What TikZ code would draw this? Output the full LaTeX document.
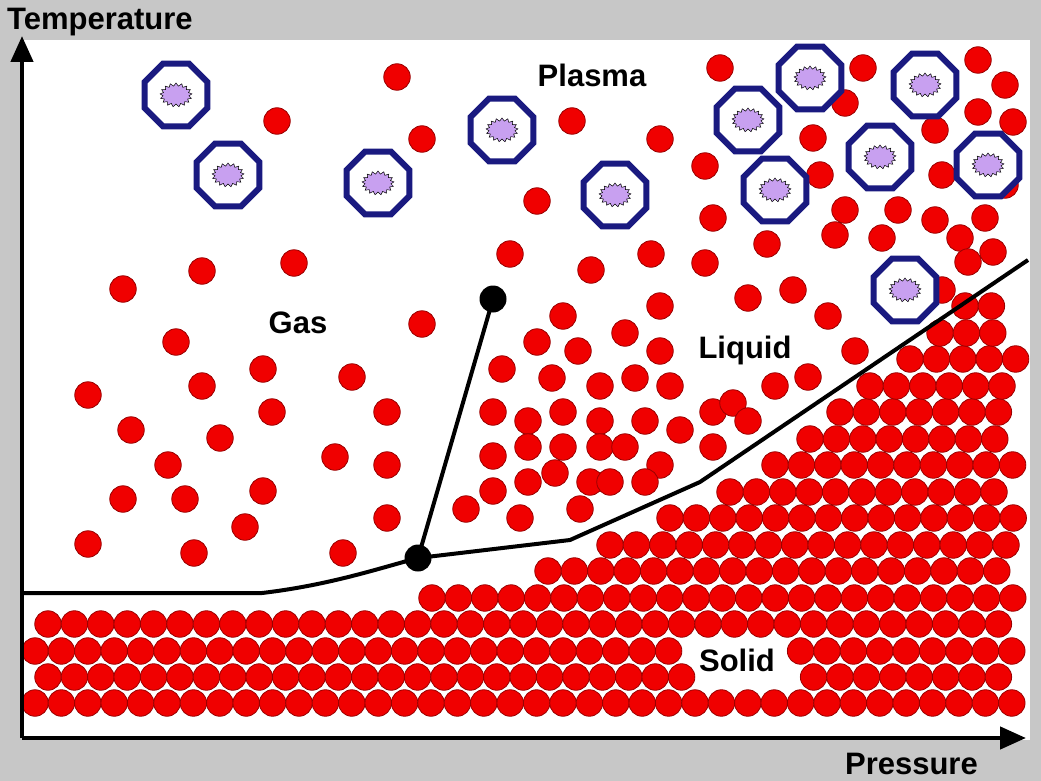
\documentclass[tikz,border=0pt]{standalone}
\usepackage{fontspec}
\setmainfont{Liberation Sans}
\usetikzlibrary{shapes.geometric,shapes.symbols,arrows.meta}
\definecolor{ballred}{HTML}{F00000}
\definecolor{ballrim}{HTML}{9A0000}
\definecolor{navy}{HTML}{1A1A80}
\definecolor{lilac}{HTML}{C8A0F0}
\tikzset{
 ball/.style={circle,fill=ballred,draw=ballrim,line width=0.8pt,minimum size=26.5pt,inner sep=0pt},
 octo/.style={regular polygon,regular polygon sides=8,draw=navy,line width=6pt,fill=white,minimum size=68pt,inner sep=0pt},
 burst/.style={starburst,starburst points=17,starburst point height=3pt,fill=lilac,draw=black,line width=0.5pt,minimum width=32pt,minimum height=24pt,inner sep=0pt,random starburst=0},
 lbl/.style={font=\bfseries\fontsize{31}{34}\selectfont,inner sep=0pt},
 phase/.style={line width=4pt,black},
 dot/.style={circle,fill=black,minimum size=27pt,inner sep=0pt}
}
\begin{document}
\begin{tikzpicture}[x=1pt,y=-1pt]
\fill[black!22] (0,0) rectangle (1041,781);
\fill[white] (22,40) rectangle (1030,740);
% solid lattice
\foreach \y/\s in {703/35,677/48,651/35,624/48,598/432,571/548,545/610,518/670,492/730,465/775,439/810,412/840,386/870,359/910,333/940,306/965}{
  \pgfmathsetmacro{\n}{int(floor((1016-\s)/26.4))}
  \foreach \i in {0,...,\n}{
    \pgfmathsetmacro{\xx}{\s+26.4*\i}
    \pgfmathsetmacro{\skip}{(\xx>682 && \xx<792 && \y>635 && \y<690) ? 1 : 0}
    \ifdim\skip pt<0.5pt \node[ball] at (\xx,\y) {};\fi
  }
}
% free balls
\foreach \p [count=\k] in {(123,289),(202,271),(294,263),(176,342),(88,395),(202,386),(263,369),(352,377),(131,430),(220,438),(272,412),(387,412),(168,465),(335,457),(387,465),(123,499),(185,499),(263,491),(245,527),(88,544),(194,553),(343,553),(387,518),(422,324),(277,121),(397,77),(422,139),(510,254),(537,201),(572,121),(660,139),(720,68),(705,166),(713,218),(651,254),(591,270),(705,263),(660,306),(767,244),(748,298),(793,290),(828,316),(855,351),(835,235),(845,210),(863,68),(845,103),(813,138),(820,175),(882,238),(898,210),(935,220),(960,238),(968,262),(993,252),(985,218),(942,175),(935,130),(978,112),(1005,85),(978,60),(1013,122),(1005,185),(942,290),(563,316),(537,342),(502,369),(625,333),(660,351),(578,351),(552,378),(600,386),(635,378),(670,386),(713,412),(733,403),(775,386),(808,377),(493,412),(528,421),(563,412),(600,421),(645,421),(680,430),(713,447),(748,421),(493,456),(528,447),(563,447),(600,447),(625,447),(660,465),(528,482),(555,473),(590,482),(610,482),(645,482),(493,491),(466,509),(520,518),(580,509)}
  \node[ball] (b\k) at \p {};
% plasma
\foreach \p [count=\k] in {(176,95),(228,175),(378,183),(502,130),(615,195),(748,120),(810,78),(775,190),(880,157),(925,85),(988,165),(905,290)}{
  \node[octo] (o\k) at \p {};
  \node[burst] (s\k) at \p {};
}
% phase lines
\node[dot] (tp) at (418,558) {};
\node[dot] (cp) at (493,299) {};
\coordinate (l0) at (22,593);
\coordinate (r0) at (1028,260);
\draw[phase] (l0) -- (262,593) .. controls (330,585) and (380,568) .. (tp.center);
\draw[phase] (tp.center) -- (570,540) -- (700,482) -- (r0);
\draw[phase] (tp.center) -- (cp.center);
% axes
\coordinate (org) at (22,738);
\coordinate (ytop) at (22,36);
\coordinate (xend) at (1026,738);
\draw[line width=4.5pt,-{Triangle[length=26pt,width=22pt]}] (org) -- (ytop);
\draw[line width=4.5pt,-{Triangle[length=26pt,width=22pt]}] (org) -- (xend);
\node[lbl,anchor=west] (tt) at (7,22) {Temperature};
\node[lbl,anchor=east] (pt) at (978,764) {Pressure};
\node[lbl] (pl) at (592,75) {Plasma};
\node[lbl] (gs) at (298,323) {Gas};
\node[lbl] (lq) at (745,350) {Liquid};
\node[lbl] (sl) at (737,660) {Solid};
\end{tikzpicture}
\end{document}
